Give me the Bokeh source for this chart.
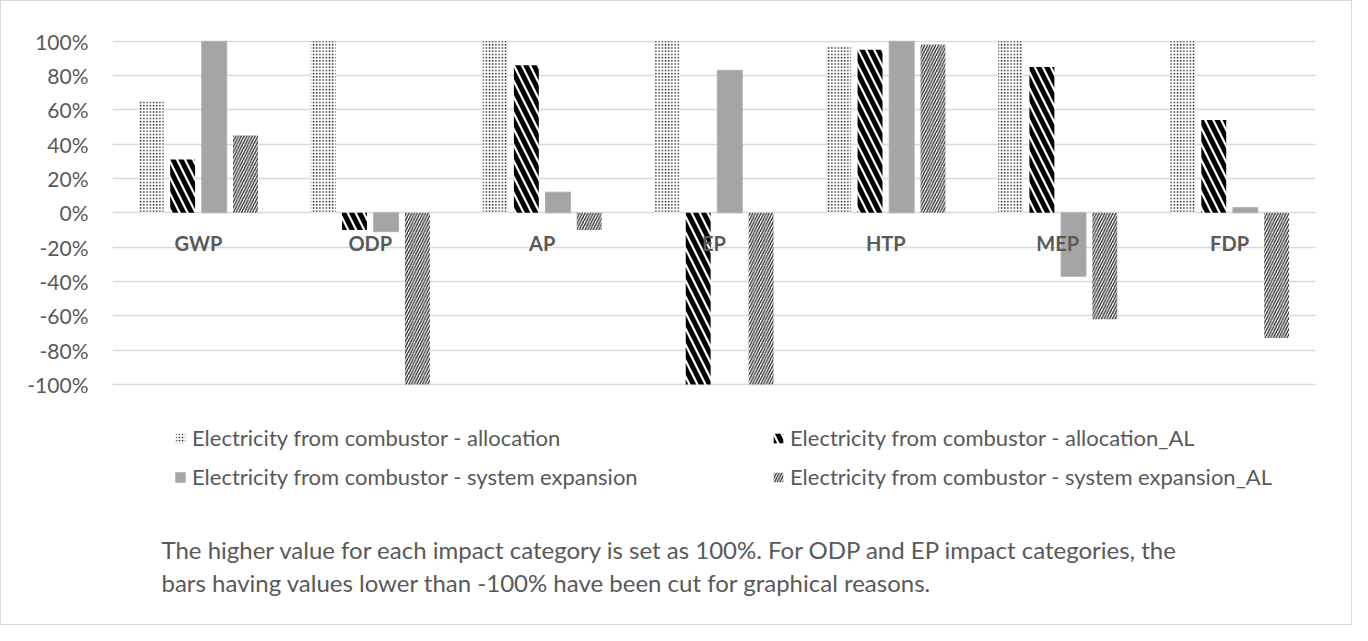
from bokeh.plotting import figure
from bokeh.models import (ColumnDataSource, FactorRange, Range1d, FixedTicker,
                          NumeralTickFormatter, Legend, LegendItem, Label)
from bokeh.transform import dodge
from bokeh.embed import file_html
from bokeh.resources import INLINE

# ---------------- data ----------------
categories = ["GWP", "ODP", "AP", "EP", "HTP", "MEP", "FDP"]
allocation = [0.65, 1.00, 1.00, 1.00, 0.97, 1.00, 1.00]
allocation_al = [0.31, -0.10, 0.86, -1.00, 0.95, 0.85, 0.54]
system_expansion = [1.00, -0.11, 0.12, 0.83, 1.00, -0.37, 0.03]
system_expansion_al = [0.45, -1.00, -0.10, -1.00, 0.98, -0.62, -0.73]
series_names = [
    "Electricity from combustor - allocation",
    "Electricity from combustor - allocation_AL",
    "Electricity from combustor - system expansion",
    "Electricity from combustor - system expansion_AL",
]
y_ticks = [-1.0, -0.8, -0.6, -0.4, -0.2, 0.0, 0.2, 0.4, 0.6, 0.8, 1.0]
note_lines = [
    "The higher value for each impact category is set as 100%. For ODP and EP impact categories, the",
    "bars having values lower than -100% have been cut for graphical reasons.",
]

source = ColumnDataSource(dict(
    cat=categories,
    s0=allocation,
    s1=allocation_al,
    s2=system_expansion,
    s3=system_expansion_al,
))

FONT = "Lato"
TXT = "#595959"
FRAME_W, FRAME_H = 1203, 574
LEFT, RIGHT, TOP, BOTTOM = 111, 36, 39, 10
PX_PER_UNIT = 171.6           # pixels for 100 %
Y_MAX = 1.004
Y_MIN = Y_MAX - FRAME_H / PX_PER_UNIT   # empty space below -100 % holds legend & note

p = figure(frame_width=FRAME_W, frame_height=FRAME_H,
           x_range=FactorRange(*categories, range_padding=0),
           y_range=Range1d(Y_MIN, Y_MAX), output_backend="svg", toolbar_location=None,
           min_border_left=LEFT, min_border_right=RIGHT, min_border_top=TOP,
           min_border_bottom=BOTTOM, outline_line_color=None)
p.styles = {"border": "1px solid #d9d9d9"}

offsets = [-0.274, -0.092, 0.092, 0.274]
bw = 0.145
styles = [
    dict(fill_color="white", line_color=None, hatch_pattern="dot", hatch_color="#111111",
         hatch_scale=3.2, hatch_weight=2.4),
    dict(fill_color="white", line_color=None, hatch_pattern="\\", hatch_color="black",
         hatch_scale=16, hatch_weight=5),
    dict(fill_color="#a5a5a5", line_color="#b0b0b0", line_width=1),
    dict(fill_color="white", line_color=None, hatch_pattern="/", hatch_color="#262626",
         hatch_scale=5.5, hatch_weight=1.3),
]
renderers = []
for i, key in enumerate(["s0", "s1", "s2", "s3"]):
    r = p.vbar(x=dodge("cat", offsets[i], range=p.x_range), top=key, bottom=0,
               width=bw, source=source, **styles[i])
    renderers.append(r)

# axes
p.xaxis.fixed_location = 0
p.xaxis.axis_line_color = None
p.xaxis.major_tick_line_color = None
p.xaxis.minor_tick_line_color = None
p.xaxis.major_label_text_font = FONT
p.xaxis.major_label_text_font_style = "bold"
p.xaxis.major_label_text_font_size = "20px"
p.xaxis.major_label_text_color = TXT
p.xaxis.major_label_standoff = 12

p.yaxis.ticker = FixedTicker(ticks=y_ticks)
p.yaxis.formatter = NumeralTickFormatter(format="0%")
p.yaxis.axis_line_color = None
p.yaxis.major_tick_line_color = None
p.yaxis.minor_tick_line_color = None
p.yaxis.major_label_text_font = FONT
p.yaxis.major_label_text_font_size = "21px"
p.yaxis.major_label_text_color = TXT
p.yaxis.major_label_standoff = 18

p.xgrid.grid_line_color = None
p.ygrid.grid_line_color = "#d9d9d9"
p.ygrid.grid_line_width = 1.3

# legends (location = bottom-left corner, pixels from the frame's bottom-left)
def make_legend(idx, x, y):
    lg = Legend(items=[LegendItem(label=series_names[k], renderers=[renderers[k]]) for k in idx],
                location=(x, y), orientation="vertical", glyph_width=12, glyph_height=12,
                label_standoff=6, spacing=12, padding=0, margin=0,
                border_line_color=None, background_fill_alpha=0,
                label_text_font=FONT, label_text_font_size="22px", label_text_color=TXT)
    p.add_layout(lg, "center")

make_legend([0, 2], 62, 124)
make_legend([1, 3], 660, 124)

# note
for j, line in enumerate(note_lines):
    p.add_layout(Label(x=49, y=65 - 33 * j, x_units="screen", y_units="screen",
                       text=line, text_font=FONT, text_font_size="24px",
                       text_color=TXT, text_baseline="middle"))

open("out.html", "w").write(file_html(p, INLINE))
